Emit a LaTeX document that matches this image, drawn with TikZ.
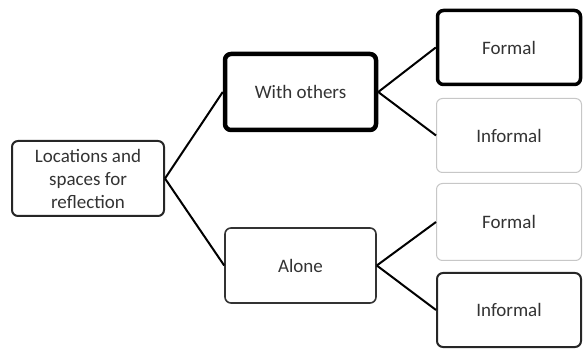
\documentclass[tikz,border=0pt]{standalone}
\usepackage{fontspec}
\setmainfont{Carlito}
\begin{document}
\begin{tikzpicture}[x=1pt,y=1pt,
  box/.style={rectangle, rounded corners=6pt, fill=white, align=center,
    font=\fontsize{19}{23}\selectfont, text=black!80, inner sep=2pt},
  heavy/.style={box, draw=black, line width=4.5pt},
  bold/.style={box, draw=black, line width=3.5pt},
  plain/.style={box, draw=black!85, line width=2pt},
  soft/.style={box, draw=black!80, line width=1.6pt},
  faint/.style={box, draw=black!22, line width=1pt},
  link/.style={draw=black, line width=2pt}]
\useasboundingbox (0,0) rectangle (584,351);
% tree of boxes
\node[plain, minimum width=152pt, minimum height=75pt] (root) at (88,172.5)
  {Locations and\\spaces for\\reflection};
\node[heavy, minimum width=151pt, minimum height=76pt] (wo) at (300.5,259) {With others};
\node[soft, minimum width=151pt, minimum height=75pt] (al) at (300.5,85.5) {Alone};
\node[bold, minimum width=143pt, minimum height=74pt] (f1) at (509,303.5) {Formal};
\node[faint, minimum width=145pt, minimum height=74pt] (i1) at (509,215.5) {Informal};
\node[faint, minimum width=145pt, minimum height=77pt] (f2) at (509,129) {Formal};
\node[plain, minimum width=144pt, minimum height=74pt] (i2) at (509,41) {Informal};
% branches
\draw[link] (root.east) -- (wo.west);
\draw[link] (root.east) -- (al.west);
\draw[link] (wo.east) -- (f1.west);
\draw[link] (wo.east) -- (i1.west);
\draw[link] (al.east) -- (f2.west);
\draw[link] (al.east) -- (i2.west);
\end{tikzpicture}
\end{document}
